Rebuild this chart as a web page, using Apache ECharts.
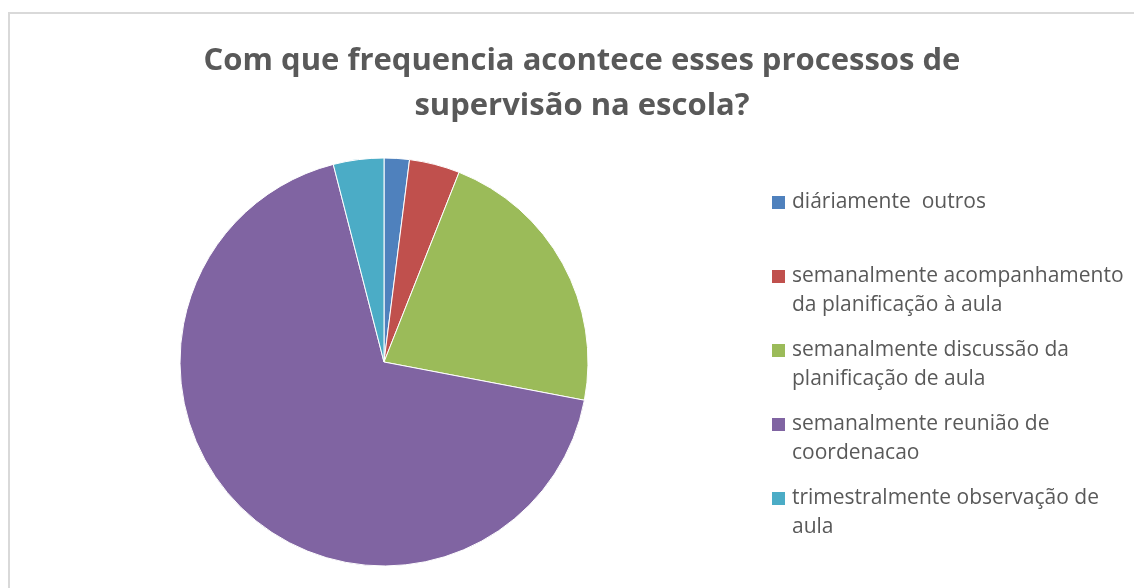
<!DOCTYPE html>
<html>
<head>
    <meta charset="UTF-8">
    <title>Frequência dos processos de supervisão</title>
    <script src="https://cdn.jsdelivr.net/npm/echarts@6/dist/echarts.min.js"></script>
    <style>
        body { margin: 0; background: #ffffff; }
        #chart { width: 1134px; height: 588px; }
    </style>
</head>
<body>
    <div id="chart"></div>
    <script>
    // dados
    const categorias = [
        'diáriamente  outros',
        'semanalmente acompanhamento da planificação à aula',
        'semanalmente discussão da planificação de aula',
        'semanalmente reunião de coordenacao',
        'trimestralmente observação de aula'
    ];
    // texto da legenda já quebrado em linhas, como no original
    const legendaLinhas = [
        ['diáriamente  outros', ''],
        ['semanalmente acompanhamento', 'da planificação à aula'],
        ['semanalmente discussão da', 'planificação de aula'],
        ['semanalmente reunião de', 'coordenacao'],
        ['trimestralmente observação de', 'aula']
    ];
    const valores = [1, 2, 11, 34, 2];
    const cores = ['#4F81BD', '#C0504D', '#9BBB59', '#8064A2', '#4BACC6'];

    const fonte = "'Open Sans', sans-serif";

    const chart = echarts.init(document.getElementById('chart'));

    // quadrados da legenda como rich text, para ficarem na primeira linha
    const rich = { pad: { width: 20 } };
    cores.forEach(function (c, i) {
        rich['q' + i] = { backgroundColor: c, width: 13, height: 13 };
        rich['q' + i + 'gap'] = { width: 7 };
    });

    const option = {
        backgroundColor: '#ffffff',
        color: cores,
        title: {
            text: 'Com que frequencia acontece esses processos de\nsupervisão na escola?',
            left: 577,
            textAlign: 'center',
            top: 34,
            textStyle: {
                fontFamily: fonte,
                fontSize: 31,
                fontWeight: 'bold',
                color: '#595959',
                lineHeight: 45
            }
        },
        legend: {
            orient: 'vertical',
            left: 766,
            top: 183,
            itemWidth: 0,
            itemHeight: 0,
            itemGap: 16,
            icon: 'rect',
            selectedMode: false,
            data: categorias,
            formatter: function (name) {
                const i = categorias.indexOf(name);
                const l = legendaLinhas[i];
                return '{q' + i + '|}{q' + i + 'gap|}' + l[0] + '\n{pad|}' + l[1];
            },
            textStyle: {
                fontFamily: fonte,
                fontSize: 21,
                color: '#595959',
                lineHeight: 29,
                padding: [0, 0, 0, -5],
                rich: rich
            }
        },
        graphic: [{
            type: 'rect',
            silent: true,
            z: -10,
            shape: { x: 9, y: 13, width: 1140, height: 600 },
            style: { fill: 'none', stroke: '#d9d9d9', lineWidth: 2 }
        }],
        series: [{
            type: 'pie',
            center: [384, 362],
            radius: 204,
            startAngle: 90,
            clockwise: true,
            label: { show: false },
            labelLine: { show: false },
            itemStyle: { borderColor: '#ffffff', borderWidth: 1 },
            emphasis: { scale: false },
            data: categorias.map(function (n, i) {
                return { name: n, value: valores[i] };
            })
        }]
    };

    chart.setOption(option);
    </script>
</body>
</html>
